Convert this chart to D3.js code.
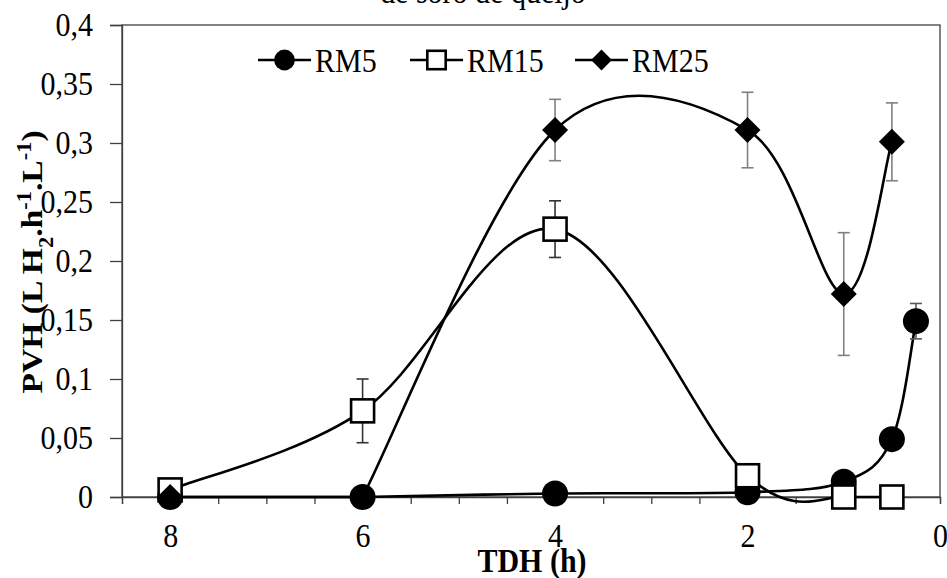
<!DOCTYPE html>
<meta charset="utf-8">
<style>
  body { margin: 0; background: #fff; }
  text { font-family: "Liberation Serif", "Times New Roman", serif; fill: #000; }
  .axis path, .axis line { stroke: #404040; stroke-width: 1.3px; }
  .axis text { font-size: 30px; }
  .curve { fill: none; stroke: #000; stroke-width: 2.6px; }
</style>
<body>
<script src="https://cdn.jsdelivr.net/npm/d3@7"></script>
<script>
// data
var tdh = [8, 6, 4, 2, 1, 0.5, 0.25];
var rm5 = [0, 0, 0.003, 0.004, 0.013, 0.049, 0.149];
var rm5Err = [0, 0, 0, 0, 0, 0, 0.015];
var rm15 = [0.006, 0.073, 0.227, 0.018, 0, 0];
var rm15Err = [0, 0.027, 0.024, 0, 0, 0];
var rm25 = [0, 0, 0.311, 0.311, 0.172, 0.301];
var rm25Err = [0, 0, 0.026, 0.032, 0.052, 0.033];
var seriesNames = ["RM5", "RM15", "RM25"];
var xTicks = [8.5, 8, 7.5, 7, 6.5, 6, 5.5, 5, 4.5, 4, 3.5, 3, 2.5, 2, 1.5, 1, 0.5, 0];
var xLabels = [8, 6, 4, 2, 0];
var yTicks = [0, 0.05, 0.1, 0.15, 0.2, 0.25, 0.3, 0.35, 0.4];

var W = 947, H = 578;
var pLeft = 122, pRight = 940, pTop = 25, pBottom = 497;
var stretch = 1.12; // the picture's text is a bit taller than wide

var svg = d3.select("body").append("svg")
    .attr("width", W).attr("height", H);

var x = d3.scaleLinear().domain([8.5, 0]).range([pLeft, pRight]);
var y = d3.scaleLinear().domain([0, 0.4]).range([pBottom, pTop]);

var comma = function(d) { return String(+d.toFixed(2)).replace(".", ","); };

function label(tx, ty, str, size, bold) {
    return svg.append("text")
        .attr("transform", "translate(" + tx + "," + ty + ") scale(1," + stretch + ")")
        .attr("text-anchor", "middle")
        .style("font-size", size + "px")
        .style("font-weight", bold ? "bold" : null)
        .text(str);
}

// cut-off title at the top
label(483, 3, "de soro de queijo", 30, false);

// plot frame
svg.append("rect")
    .attr("x", pLeft).attr("y", pTop)
    .attr("width", pRight - pLeft).attr("height", pBottom - pTop)
    .attr("fill", "none").attr("stroke", "#404040").attr("stroke-width", 1.3);

// axes
svg.append("g").attr("class", "axis")
    .attr("transform", "translate(" + pLeft + ",0)")
    .call(d3.axisLeft(y).tickValues(yTicks).tickSize(12).tickPadding(17).tickFormat(comma))
    .selectAll("text").attr("transform", "scale(1," + stretch + ")");

svg.append("g").attr("class", "axis")
    .attr("transform", "translate(0," + pBottom + ")")
    .call(d3.axisBottom(x).tickValues(xTicks).tickSize(7).tickPadding(16)
        .tickFormat(function(d) { return xLabels.indexOf(d) >= 0 ? d : ""; }))
    .selectAll("text").attr("transform", "scale(1," + stretch + ")");

// axis titles
label(532, 572, "TDH (h)", 30, true);

var yl = svg.append("text")
    .attr("transform", "translate(42,262) scale(1," + stretch + ") rotate(-90)")
    .attr("text-anchor", "middle")
    .style("font-size", "30px").style("font-weight", "bold");
yl.append("tspan").text("PVH (L H");
yl.append("tspan").attr("baseline-shift", "sub").style("font-size", "20px").text("2");
yl.append("tspan").text(".h");
yl.append("tspan").attr("baseline-shift", "super").style("font-size", "20px").text("-1");
yl.append("tspan").text(".L");
yl.append("tspan").attr("baseline-shift", "super").style("font-size", "20px").text("-1");
yl.append("tspan").text(")");

// marker drawing
function marker(g, kind, s) {
    if (kind === 0) {
        g.append("circle").attr("r", 13 * s).attr("fill", "#000");
    } else if (kind === 1) {
        var h = 11.5 * s;
        g.append("rect").attr("x", -h).attr("y", -h).attr("width", 2 * h).attr("height", 2 * h)
            .attr("fill", "#fff").attr("stroke", "#000").attr("stroke-width", 2.6);
    } else {
        g.append("path").attr("d", "M0," + (-13 * s) + "L" + (13 * s) + ",0L0," + (13 * s) + "L" + (-13 * s) + ",0Z")
            .attr("fill", "#000");
    }
}

// Excel-like smoothed line (Bezier handles of 1/6 of the neighbour chord);
// a flat segment at either end is kept straight
function smoothPath(vals, xs) {
    var pts = vals.map(function(v, i) { return [x(xs[i]), y(v)]; });
    var n = pts.length, p = d3.path();
    var a = 0, b = n - 1;
    p.moveTo(pts[0][0], pts[0][1]);
    if (n > 2 && vals[0] === vals[1]) { p.lineTo(pts[1][0], pts[1][1]); a = 1; }
    if (n > 2 && vals[n - 1] === vals[n - 2]) b = n - 2;
    for (var i = a; i < b; i++) {
        var p0 = pts[Math.max(i - 1, a)], p1 = pts[i], p2 = pts[i + 1], p3 = pts[Math.min(i + 2, b)];
        p.bezierCurveTo(
            p1[0] + (p2[0] - p0[0]) / 6, p1[1] + (p2[1] - p0[1]) / 6,
            p2[0] - (p3[0] - p1[0]) / 6, p2[1] - (p3[1] - p1[1]) / 6,
            p2[0], p2[1]);
    }
    if (b < n - 1) p.lineTo(pts[n - 1][0], pts[n - 1][1]);
    return p.toString();
}

var series = [
    { vals: rm5, err: rm5Err, errColor: "#595959" },
    { vals: rm15, err: rm15Err, errColor: "#333333" },
    { vals: rm25, err: rm25Err, errColor: "#808080" }
];

series.forEach(function(s, k) {
    var pts = s.vals.map(function(v, i) { return [tdh[i], v, s.err[i]]; });
    var g = svg.append("g");

    g.append("path").attr("class", "curve").attr("d", smoothPath(s.vals, tdh));

    // error bars
    var eb = g.selectAll(".eb").data(pts.filter(function(p) { return p[2] > 0; }))
        .enter().append("g").attr("stroke", s.errColor).attr("stroke-width", 1.6);
    eb.append("line")
        .attr("x1", function(p) { return x(p[0]); }).attr("x2", function(p) { return x(p[0]); })
        .attr("y1", function(p) { return y(p[1] + p[2]); }).attr("y2", function(p) { return y(p[1] - p[2]); });
    [1, -1].forEach(function(sg) {
        eb.append("line")
            .attr("x1", function(p) { return x(p[0]) - 6; }).attr("x2", function(p) { return x(p[0]) + 6; })
            .attr("y1", function(p) { return y(p[1] + sg * p[2]); }).attr("y2", function(p) { return y(p[1] + sg * p[2]); });
    });

    g.selectAll(".m").data(pts).enter().append("g")
        .attr("transform", function(p) { return "translate(" + x(p[0]) + "," + y(p[1]) + ")"; })
        .each(function() { marker(d3.select(this), k, 1); });
});

// legend
var legX = [258, 410, 575];
seriesNames.forEach(function(name, k) {
    var lg = svg.append("g").attr("transform", "translate(" + legX[k] + ",60)");
    lg.append("line").attr("x1", 0).attr("x2", 53).attr("stroke", "#000").attr("stroke-width", 2.5);
    marker(lg.append("g").attr("transform", "translate(26.5,0)"), k, 0.8);
    lg.append("text")
        .attr("transform", "translate(57,12) scale(1," + stretch + ")")
        .style("font-size", "30px").text(name);
});
</script>
</body>
